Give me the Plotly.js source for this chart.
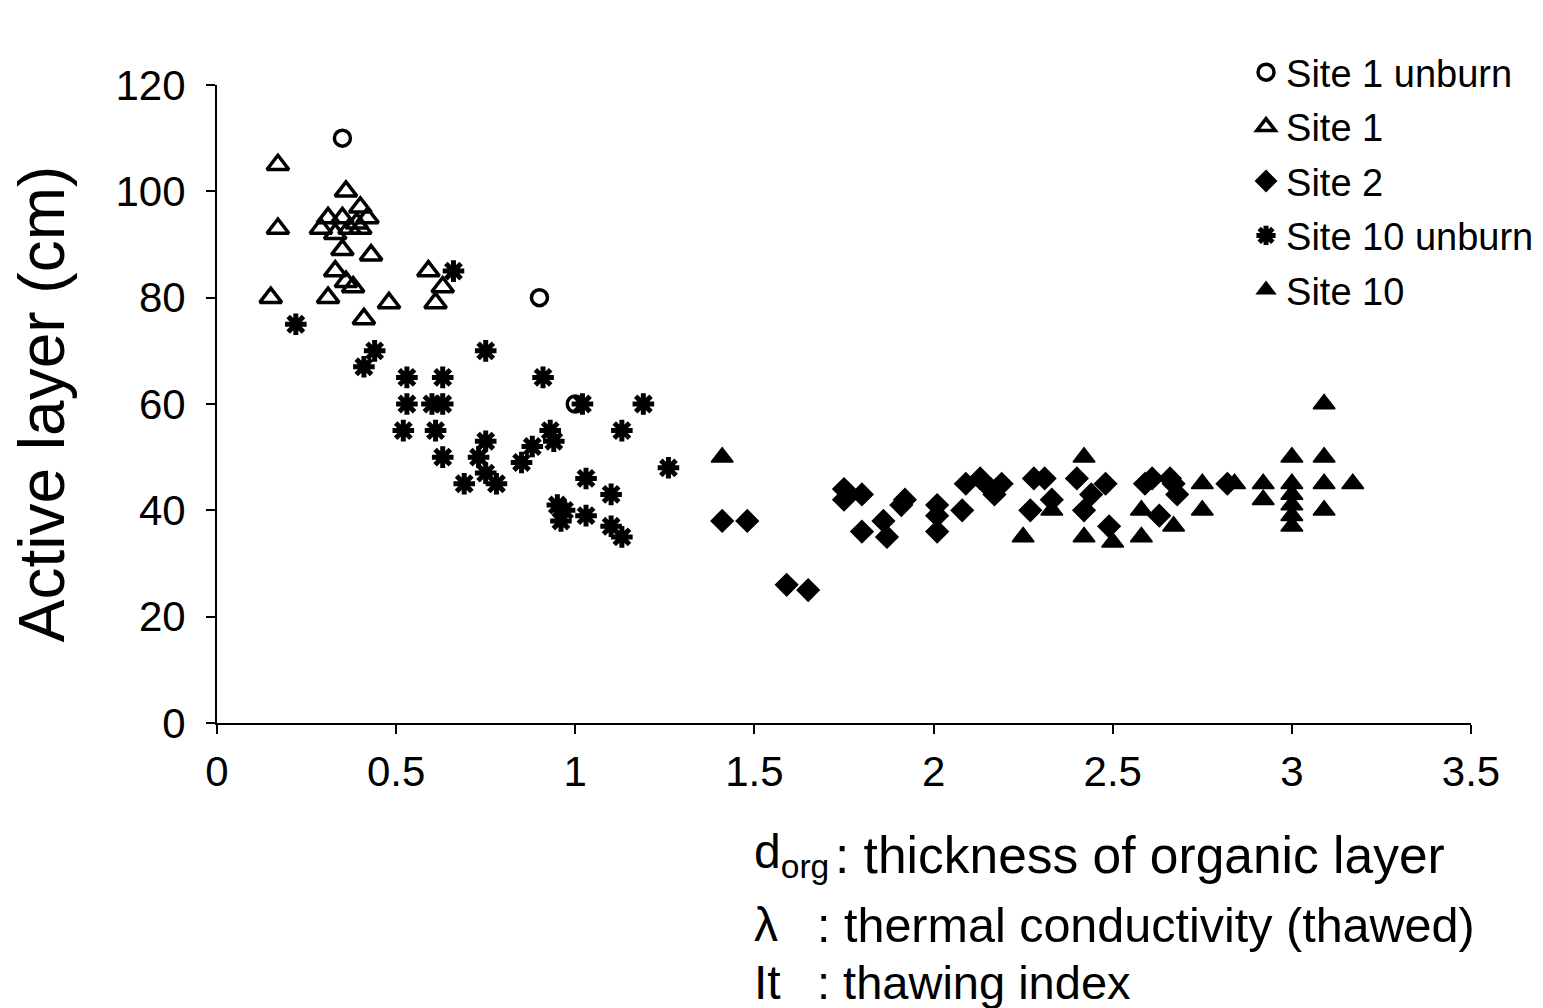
<!DOCTYPE html>
<html>
<head>
<meta charset="utf-8">
<script src="https://cdn.plot.ly/plotly-3.0.1.min.js"></script>
<style>html,body{margin:0;padding:0;background:#fff;}#chart{width:1543px;height:1008px;}</style>
</head>
<body>
<div id="chart"></div>
<script>
// Site 1 unburn (open circles)
const site1UnburnX = [0.35, 0.90, 1.00];
const site1UnburnY = [110, 80, 60];

// Site 1 (open triangles)
const site1X = [0.17, 0.17, 0.15, 0.36, 0.40, 0.42, 0.31, 0.35, 0.29, 0.33, 0.40, 0.37, 0.39, 0.35, 0.43, 0.33, 0.36, 0.38, 0.31, 0.48, 0.41, 0.59, 0.63, 0.61];
const site1Y = [105, 93, 80, 100, 97, 95, 95, 95, 93, 92, 93, 93, 94, 89, 88, 85, 83, 82, 80, 79, 76, 85, 82, 79];

// Site 2 (filled diamonds)
const site2X = [1.41, 1.48, 1.59, 1.65, 1.75, 1.80, 1.75, 1.80, 1.86, 1.87, 1.91, 1.92, 2.01, 2.01, 2.01, 2.08, 2.09, 2.13, 2.16, 2.19, 2.17, 2.28, 2.31, 2.33, 2.27, 2.40, 2.44, 2.42, 2.48, 2.49, 2.59, 2.61, 2.66, 2.67, 2.68, 2.63, 2.82];
const site2Y = [38, 38, 26, 25, 44, 43, 42, 36, 38, 35, 41, 42, 41, 39, 36, 40, 45, 46, 44, 45, 43, 46, 46, 42, 40, 46, 43, 40, 45, 37, 45, 46, 46, 45, 43, 39, 45];

// Site 10 unburn (asterisks)
const site10UnburnX = [0.22, 0.66, 0.44, 0.41, 0.75, 0.53, 0.63, 0.91, 0.53, 0.60, 0.63, 1.02, 1.19, 0.52, 0.61, 0.93, 1.13, 0.75, 0.94, 0.63, 0.73, 0.88, 0.85, 0.75, 0.69, 0.78, 1.26, 1.03, 1.10, 0.95, 0.97, 0.96, 1.03, 1.10, 1.13];
const site10UnburnY = [75, 85, 70, 67, 70, 65, 65, 65, 60, 60, 60, 60, 60, 55, 55, 55, 55, 53, 53, 50, 50, 52, 49, 47, 45, 45, 48, 46, 43, 41, 40, 38, 39, 37, 35];

// Site 10 (filled triangles)
const site10X = [1.41, 2.25, 2.33, 2.42, 2.42, 2.50, 2.58, 2.58, 2.67, 2.75, 2.75, 2.84, 2.92, 2.92, 3.00, 3.09, 3.09, 3.00, 3.09, 3.17, 3.00, 3.00, 3.00, 3.00, 3.09];
const site10Y = [50, 35, 40, 50, 35, 34, 40, 35, 37, 45, 40, 45, 45, 42, 50, 50, 60, 45, 45, 45, 43, 41, 39, 37, 40];

const xTicks = [0, 0.5, 1, 1.5, 2, 2.5, 3, 3.5];
const yTicks = [0, 20, 40, 60, 80, 100, 120];

const FONT = 'Liberation Sans, Arial, Helvetica, sans-serif';

const traces = [
  {x: site1UnburnX, y: site1UnburnY, name: 'Site 1 unburn', type: 'scatter', mode: 'markers', cliponaxis: false,
   marker: {symbol: 'circle-open', size: 16, color: '#000', line: {width: 3.5, color: '#000'}}, legendgroup: 'a'},
  {x: site1X, y: site1Y, name: 'Site 1', type: 'scatter', mode: 'markers', cliponaxis: false,
   marker: {symbol: 'triangle-up-open', size: 19, color: '#000', line: {width: 3.5, color: '#000'}}, legendgroup: 'b'},
  {x: site2X, y: site2Y, name: 'Site 2', type: 'scatter', mode: 'markers', cliponaxis: false,
   marker: {symbol: 'diamond', size: 17, color: '#000', line: {width: 1.5, color: '#000'}}, legendgroup: 'c'},
  {x: site10UnburnX, y: site10UnburnY, name: 'Site 10 unburn', type: 'scatter', mode: 'markers', cliponaxis: false,
   marker: {symbol: 'asterisk-open', size: 18, color: '#000', line: {width: 5, color: '#000'}}, legendgroup: 'd'},
  {x: site10X, y: site10Y, name: 'Site 10', type: 'scatter', mode: 'markers', cliponaxis: false,
   marker: {symbol: 'triangle-up', size: 19, color: '#000', line: {width: 1.5, color: '#000'}}, legendgroup: 'e'}
];

const layout = {
  width: 1543, height: 1008,
  paper_bgcolor: '#fff', plot_bgcolor: '#fff',
  margin: {l: 217, r: 72, t: 85, b: 285, autoexpand: false},
  font: {family: FONT, color: '#000'},
  showlegend: true,
  legend: {x: 0.8206, y: 1.069, xanchor: 'left', yanchor: 'top', bgcolor: 'rgba(0,0,0,0)',
           font: {size: 38, family: FONT, color: '#000'}, traceorder: 'grouped', tracegroupgap: 2,
           itemwidth: 30},
  xaxis: {range: [0, 3.5], tickvals: xTicks, ticktext: xTicks.map(String), showgrid: false, zeroline: false,
          showline: true, linecolor: '#000', linewidth: 2, ticks: 'outside', ticklen: 9, tickwidth: 2,
          tickcolor: '#000', tickfont: {size: 42, family: FONT, color: '#000'}, ticklabelstandoff: 2},
  yaxis: {range: [0, 120], tickvals: yTicks, showgrid: false, zeroline: false,
          showline: true, linecolor: '#000', linewidth: 2, ticks: 'outside', ticklen: 9, tickwidth: 2,
          tickcolor: '#000', tickfont: {size: 42, family: FONT, color: '#000'}, ticklabelstandoff: 12,
          title: {text: 'Active layer (cm)', font: {size: 64, family: FONT, color: '#000'}, standoff: 30}},
  annotations: [
    {xref: 'paper', yref: 'paper', x: 0.4266, y: -0.207, xanchor: 'left', yanchor: 'middle', showarrow: false,
     text: 'd<sub>org</sub>', font: {size: 48, family: FONT, color: '#000'}},
    {xref: 'paper', yref: 'paper', x: 0.4915, y: -0.207, xanchor: 'left', yanchor: 'middle', showarrow: false,
     text: ': thickness of organic layer', font: {size: 51.5, family: FONT, color: '#000'}},
    {xref: 'paper', yref: 'paper', x: 0.4266, y: -0.3166, xanchor: 'left', yanchor: 'middle', showarrow: false,
     text: 'λ', font: {size: 48, family: FONT, color: '#000'}},
    {xref: 'paper', yref: 'paper', x: 0.477, y: -0.3166, xanchor: 'left', yanchor: 'middle', showarrow: false,
     text: ': thermal conductivity (thawed)', font: {size: 48.5, family: FONT, color: '#000'}},
    {xref: 'paper', yref: 'paper', x: 0.4266, y: -0.4075, xanchor: 'left', yanchor: 'middle', showarrow: false,
     text: 'It', font: {size: 48, family: FONT, color: '#000'}},
    {xref: 'paper', yref: 'paper', x: 0.477, y: -0.4075, xanchor: 'left', yanchor: 'middle', showarrow: false,
     text: ': thawing index', font: {size: 47, family: FONT, color: '#000'}}
  ]
};

Plotly.newPlot('chart', traces, layout, {displayModeBar: false, staticPlot: true});
</script>
</body>
</html>
